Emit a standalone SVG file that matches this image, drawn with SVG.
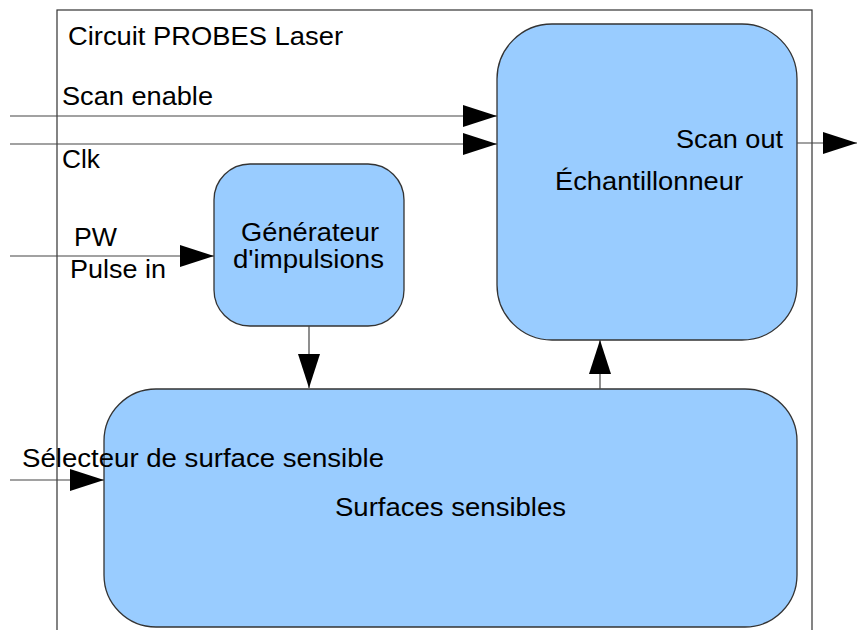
<svg xmlns="http://www.w3.org/2000/svg" width="857" height="630" viewBox="0 0 857 630">
<defs>
<style>
.t{font-family:"Liberation Sans",Arial,sans-serif;font-size:25px;fill:#000}
.box{fill:#99ccff;stroke:#333;stroke-width:1.3}
.ln{stroke:#444;stroke-width:1.2;fill:none}
</style>
<marker id="ah" markerUnits="userSpaceOnUse" markerWidth="34" markerHeight="22" refX="34" refY="11" orient="auto">
<path d="M0,0 L34,11 L0,22 z" fill="#000"/>
</marker>
</defs>
<rect width="857" height="630" fill="#fff"/>
<g id="frame">
<rect x="57" y="10" width="755" height="660" fill="none" stroke="#333" stroke-width="1.2"/>
<text class="t" x="68" y="45" textLength="275" lengthAdjust="spacingAndGlyphs">Circuit PROBES Laser</text>
</g>
<g id="echantillonneur">
<rect class="box" x="497" y="24" width="300" height="316" rx="55" ry="55"/>
<text class="t" x="783" y="148" text-anchor="end" textLength="107" lengthAdjust="spacingAndGlyphs">Scan out</text>
<text class="t" x="555" y="190" textLength="188" lengthAdjust="spacingAndGlyphs">Échantillonneur</text>
</g>
<g id="generateur">
<rect class="box" x="214" y="164" width="190" height="162" rx="36" ry="36"/>
<text class="t" x="241" y="241" textLength="138" lengthAdjust="spacingAndGlyphs">Générateur</text>
<text class="t" x="233" y="268" textLength="151" lengthAdjust="spacingAndGlyphs">d'impulsions</text>
</g>
<g id="surfaces">
<rect class="box" x="104" y="389" width="693" height="238" rx="52" ry="52"/>
<text class="t" x="335" y="516" textLength="231" lengthAdjust="spacingAndGlyphs">Surfaces sensibles</text>
</g>
<g id="connectors">
<line class="ln" x1="10" y1="116" x2="497" y2="116" marker-end="url(#ah)"/>
<line class="ln" x1="10" y1="144" x2="497" y2="144" marker-end="url(#ah)"/>
<line class="ln" x1="797" y1="143" x2="857" y2="143" marker-end="url(#ah)"/>
<line class="ln" x1="10" y1="256" x2="214" y2="256" marker-end="url(#ah)"/>
<line class="ln" x1="309" y1="326" x2="309" y2="388" marker-end="url(#ah)"/>
<line class="ln" x1="600" y1="389" x2="600" y2="340" marker-end="url(#ah)"/>
<line class="ln" x1="10" y1="480" x2="104" y2="480" marker-end="url(#ah)"/>
</g>
<g id="labels">
<text class="t" x="62" y="105" textLength="151" lengthAdjust="spacingAndGlyphs">Scan enable</text>
<text class="t" x="62" y="168" textLength="38" lengthAdjust="spacingAndGlyphs">Clk</text>
<text class="t" x="74" y="246" textLength="43" lengthAdjust="spacingAndGlyphs">PW</text>
<text class="t" x="70" y="278" textLength="96" lengthAdjust="spacingAndGlyphs">Pulse in</text>
<text class="t" x="22" y="467" textLength="362" lengthAdjust="spacingAndGlyphs">Sélecteur de surface sensible</text>
</g>
</svg>
